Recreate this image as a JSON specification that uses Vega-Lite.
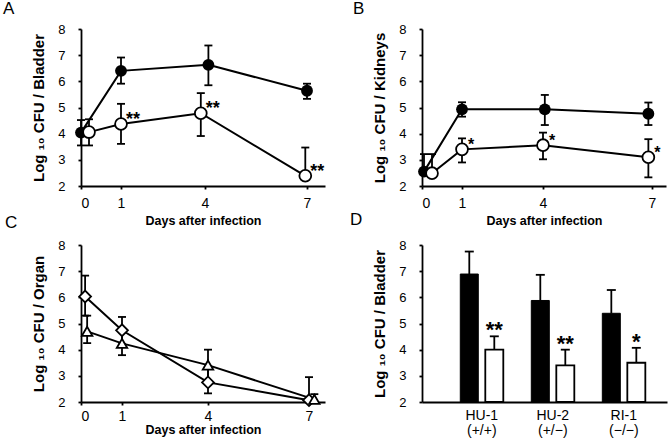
{
  "$schema": "https://vega.github.io/schema/vega-lite/v6.json",
  "autosize": {"type": "none"},
  "padding": {"left": 81, "top": 29, "right": 591, "bottom": 416},
  "background": "white",
  "datasets": {
    "A": [
      {"series": "Group 1", "day": 0, "mean": 4.04, "lo": 3.55, "hi": 4.52},
      {"series": "Group 1", "day": 1, "mean": 6.4, "lo": 5.91, "hi": 6.91},
      {"series": "Group 1", "day": 4.1, "mean": 6.63, "lo": 5.85, "hi": 7.37},
      {"series": "Group 1", "day": 7, "mean": 5.64, "lo": 5.33, "hi": 5.91},
      {"series": "Group 2", "day": 0.2, "mean": 4.06, "lo": 3.55, "hi": 4.55},
      {"series": "Group 2", "day": 1, "mean": 4.37, "lo": 3.61, "hi": 5.14, "sig": "**"},
      {"series": "Group 2", "day": 3.85, "mean": 4.78, "lo": 3.91, "hi": 5.55, "sig": "**"},
      {"series": "Group 2", "day": 6.95, "mean": 2.39, "lo": 2.39, "hi": 3.47, "sig": "**"}
    ],
    "B": [
      {"series": "Group 1", "day": 0.05, "mean": 2.55, "lo": 2.55, "hi": 3.22},
      {"series": "Group 1", "day": 1, "mean": 4.93, "lo": 4.65, "hi": 5.2},
      {"series": "Group 1", "day": 4.05, "mean": 4.93, "lo": 4.33, "hi": 5.48},
      {"series": "Group 1", "day": 6.9, "mean": 4.76, "lo": 4.33, "hi": 5.19},
      {"series": "Group 2", "day": 0.25, "mean": 2.49, "lo": 2.49, "hi": 3.22},
      {"series": "Group 2", "day": 1, "mean": 3.4, "lo": 2.9, "hi": 3.82, "sig": "*"},
      {"series": "Group 2", "day": 4.0, "mean": 3.56, "lo": 3.02, "hi": 4.04, "sig": "*"},
      {"series": "Group 2", "day": 6.9, "mean": 3.1, "lo": 2.33, "hi": 3.79, "sig": "*"}
    ],
    "C": [
      {"series": "Bladder", "day": 0.1, "mean": 6.03, "lo": 5.3, "hi": 6.83},
      {"series": "Bladder", "day": 1, "mean": 4.74, "lo": 4.2, "hi": 5.25},
      {"series": "Bladder", "day": 4, "mean": 2.75, "lo": 2.33, "hi": 3.3},
      {"series": "Bladder", "day": 7, "mean": 2.07, "lo": 2.07, "hi": 2.95},
      {"series": "Kidneys", "day": 0.15, "mean": 4.7, "lo": 4.25, "hi": 5.3},
      {"series": "Kidneys", "day": 1, "mean": 4.24, "lo": 3.79, "hi": 4.7},
      {"series": "Kidneys", "day": 4, "mean": 3.41, "lo": 2.8, "hi": 4.0},
      {"series": "Kidneys", "day": 7.2, "mean": 2.1, "lo": 2.1, "hi": 2.3}
    ],
    "D": [
      {"strain": "HU-1|(+/+)", "series": "Group 1", "mean": 6.89, "hi": 7.75},
      {"strain": "HU-1|(+/+)", "series": "Group 2", "mean": 4.0, "hi": 4.51, "sig": "**"},
      {"strain": "HU-2|(+/−)", "series": "Group 1", "mean": 5.88, "hi": 6.86},
      {"strain": "HU-2|(+/−)", "series": "Group 2", "mean": 3.4, "hi": 4.0, "sig": "**"},
      {"strain": "RI-1|(−/−)", "series": "Group 1", "mean": 5.39, "hi": 6.28},
      {"strain": "RI-1|(−/−)", "series": "Group 2", "mean": 3.5, "hi": 4.07, "sig": "*"}
    ]
  },
  "columns": 2,
  "spacing": {"row": 59, "column": 97},
  "bounds": "flush",
  "resolve": {"scale": {"x": "independent", "y": "independent"}},
  "concat": [
    {
      "width": 244, "height": 157,
      "title": {"text": "A", "anchor": "start", "frame": "group", "dx": -78, "offset": 5, "fontSize": 17, "fontWeight": "normal"},
      "data": {"name": "A"},
      "encoding": {
        "x": {"field": "day", "type": "quantitative", "scale": {"domain": [0, 1, 4, 7, 7.7], "range": [0, 40, 124, 226, 244], "nice": false, "zero": false},
              "axis": {"values": [0, 1, 4, 7], "title": "Days after infection", "titlePadding": 4}},
        "y": {"field": "mean", "type": "quantitative", "scale": {"domain": [2, 8], "nice": false, "zero": false},
              "axis": {"values": [2, 3, 4, 5, 6, 7, 8], "title": "Log ₁₀ CFU / Bladder"}}
      },
      "layer": [
        {"mark": {"type": "line", "color": "black", "strokeWidth": 2}, "encoding": {"detail": {"field": "series"}}},
        {"mark": {"type": "rule", "color": "black", "strokeWidth": 1.8}, "encoding": {"y": {"field": "lo", "type": "quantitative"}, "y2": {"field": "hi"}}},
        {"mark": {"type": "tick", "orient": "horizontal", "color": "black", "size": 8, "thickness": 1.8, "opacity": 1}, "encoding": {"y": {"field": "hi", "type": "quantitative"}}},
        {"transform": [{"filter": "datum.lo < datum.mean"}], "mark": {"type": "tick", "orient": "horizontal", "color": "black", "size": 8, "thickness": 1.8, "opacity": 1}, "encoding": {"y": {"field": "lo", "type": "quantitative"}}},
        {"transform": [{"filter": "datum.series == 'Group 1'"}], "mark": {"type": "point", "shape": "circle", "filled": true, "color": "black", "size": 140, "opacity": 1}},
        {"transform": [{"filter": "datum.series == 'Group 2'"}], "mark": {"type": "point", "shape": "circle", "fill": "white", "stroke": "black", "strokeWidth": 1.8, "size": 140, "opacity": 1}},
        {"transform": [{"filter": "datum.sig"}], "mark": {"type": "text", "align": "left", "baseline": "alphabetic", "dx": 5, "dy": 1, "fontSize": 18, "fontWeight": "bold", "color": "black"}, "encoding": {"text": {"field": "sig"}}}
      ]
    },
    {
      "width": 244, "height": 157,
      "title": {"text": "B", "anchor": "start", "frame": "group", "dx": -69, "offset": 5, "fontSize": 17, "fontWeight": "normal"},
      "data": {"name": "B"},
      "encoding": {
        "x": {"field": "day", "type": "quantitative", "scale": {"domain": [0, 1, 4, 7, 7.4], "range": [0, 40, 121, 230, 244], "nice": false, "zero": false},
              "axis": {"values": [0, 1, 4, 7], "title": "Days after infection", "titlePadding": 4}},
        "y": {"field": "mean", "type": "quantitative", "scale": {"domain": [2, 8], "nice": false, "zero": false},
              "axis": {"values": [2, 3, 4, 5, 6, 7, 8], "title": "Log ₁₀ CFU / Kidneys"}}
      },
      "layer": [
        {"mark": {"type": "line", "color": "black", "strokeWidth": 2}, "encoding": {"detail": {"field": "series"}}},
        {"mark": {"type": "rule", "color": "black", "strokeWidth": 1.8}, "encoding": {"y": {"field": "lo", "type": "quantitative"}, "y2": {"field": "hi"}}},
        {"mark": {"type": "tick", "orient": "horizontal", "color": "black", "size": 8, "thickness": 1.8, "opacity": 1}, "encoding": {"y": {"field": "hi", "type": "quantitative"}}},
        {"transform": [{"filter": "datum.lo < datum.mean"}], "mark": {"type": "tick", "orient": "horizontal", "color": "black", "size": 8, "thickness": 1.8, "opacity": 1}, "encoding": {"y": {"field": "lo", "type": "quantitative"}}},
        {"transform": [{"filter": "datum.series == 'Group 1'"}], "mark": {"type": "point", "shape": "circle", "filled": true, "color": "black", "size": 140, "opacity": 1}},
        {"transform": [{"filter": "datum.series == 'Group 2'"}], "mark": {"type": "point", "shape": "circle", "fill": "white", "stroke": "black", "strokeWidth": 1.8, "size": 140, "opacity": 1}},
        {"transform": [{"filter": "datum.sig"}], "mark": {"type": "text", "align": "left", "baseline": "alphabetic", "dx": 6, "dy": 1, "fontSize": 16, "fontWeight": "bold", "color": "black"}, "encoding": {"text": {"field": "sig"}}}
      ]
    },
    {
      "width": 244, "height": 157,
      "title": {"text": "C", "anchor": "start", "frame": "group", "dx": -76, "offset": 7, "fontSize": 17, "fontWeight": "normal"},
      "data": {"name": "C"},
      "encoding": {
        "x": {"field": "day", "type": "quantitative", "scale": {"domain": [0, 1, 4, 7, 7.6], "range": [0, 41, 127, 228, 244], "nice": false, "zero": false},
              "axis": {"values": [0, 1, 4, 7], "title": "Days after infection", "titlePadding": 0, "labelPadding": 4}},
        "y": {"field": "mean", "type": "quantitative", "scale": {"domain": [2, 8], "nice": false, "zero": false},
              "axis": {"values": [2, 3, 4, 5, 6, 7, 8], "title": "Log ₁₀ CFU / Organ"}}
      },
      "layer": [
        {"mark": {"type": "line", "color": "black", "strokeWidth": 2}, "encoding": {"detail": {"field": "series"}}},
        {"mark": {"type": "rule", "color": "black", "strokeWidth": 1.8}, "encoding": {"y": {"field": "lo", "type": "quantitative"}, "y2": {"field": "hi"}}},
        {"mark": {"type": "tick", "orient": "horizontal", "color": "black", "size": 8, "thickness": 1.8, "opacity": 1}, "encoding": {"y": {"field": "hi", "type": "quantitative"}}},
        {"transform": [{"filter": "datum.lo < datum.mean"}], "mark": {"type": "tick", "orient": "horizontal", "color": "black", "size": 8, "thickness": 1.8, "opacity": 1}, "encoding": {"y": {"field": "lo", "type": "quantitative"}}},
        {"transform": [{"filter": "datum.series == 'Bladder'"}], "mark": {"type": "point", "shape": "diamond", "fill": "white", "stroke": "black", "strokeWidth": 1.8, "size": 140, "opacity": 1}},
        {"transform": [{"filter": "datum.series == 'Kidneys'"}], "mark": {"type": "point", "shape": "triangle-up", "fill": "white", "stroke": "black", "strokeWidth": 1.8, "size": 110, "opacity": 1}}
      ]
    },
    {
      "width": 245, "height": 157,
      "title": {"text": "D", "anchor": "start", "frame": "group", "dx": -72, "offset": 10, "fontSize": 17, "fontWeight": "normal"},
      "data": {"name": "D"},
      "encoding": {
        "x": {"field": "strain", "type": "nominal", "sort": null,
              "scale": {"paddingInner": 0, "paddingOuter": 0.225, "align": 0.76},
              "axis": {"title": null, "labelAngle": 0, "ticks": false, "labelExpr": "split(datum.label, '|')", "labelFontSize": 14, "labelLineHeight": 15, "labelPadding": 6}},
        "xOffset": {"field": "series", "type": "nominal", "sort": null, "scale": {"paddingInner": 0.28, "paddingOuter": 0.56}},
        "y": {"field": "mean", "type": "quantitative", "scale": {"domain": [2, 8], "nice": false, "zero": false},
              "axis": {"values": [2, 3, 4, 5, 6, 7, 8], "title": "Log ₁₀ CFU / Bladder"}}
      },
      "layer": [
        {"transform": [{"filter": "datum.series == 'Group 1'"}], "mark": {"type": "bar", "fill": "black", "stroke": "black", "strokeWidth": 1}, "encoding": {"y2": {"datum": 2}}},
        {"transform": [{"filter": "datum.series == 'Group 2'"}], "mark": {"type": "bar", "fill": "white", "stroke": "black", "strokeWidth": 1.8}, "encoding": {"y2": {"datum": 2}}},
        {"mark": {"type": "rule", "color": "black", "strokeWidth": 1.8}, "encoding": {"y": {"field": "mean", "type": "quantitative"}, "y2": {"field": "hi"}}},
        {"mark": {"type": "tick", "orient": "horizontal", "color": "black", "size": 9, "thickness": 1.8, "opacity": 1}, "encoding": {"y": {"field": "hi", "type": "quantitative"}}},
        {"transform": [{"filter": "datum.sig"}], "mark": {"type": "text", "align": "center", "baseline": "alphabetic", "dy": 1, "fontSize": 22, "fontWeight": "bold", "color": "black"}, "encoding": {"y": {"field": "hi", "type": "quantitative"}, "text": {"field": "sig"}}}
      ]
    }
  ],
  "config": {
    "view": {"stroke": null},
    "font": "Liberation Sans",
    "axis": {
      "grid": false,
      "domainColor": "black", "domainWidth": 1.8,
      "tickColor": "black", "tickWidth": 1.8, "tickSize": 3,
      "labelColor": "black", "labelFontSize": 13,
      "titleColor": "black", "titleFontSize": 13, "titleFontWeight": "bold"
    },
    "axisY": {"labelPadding": 13, "titlePadding": 11, "titleFontSize": 15},
    "axisX": {"labelPadding": 7, "labelFontSize": 14, "titleFontSize": 12.5},
    "title": {"color": "black", "font": "Liberation Sans"}
  }
}
